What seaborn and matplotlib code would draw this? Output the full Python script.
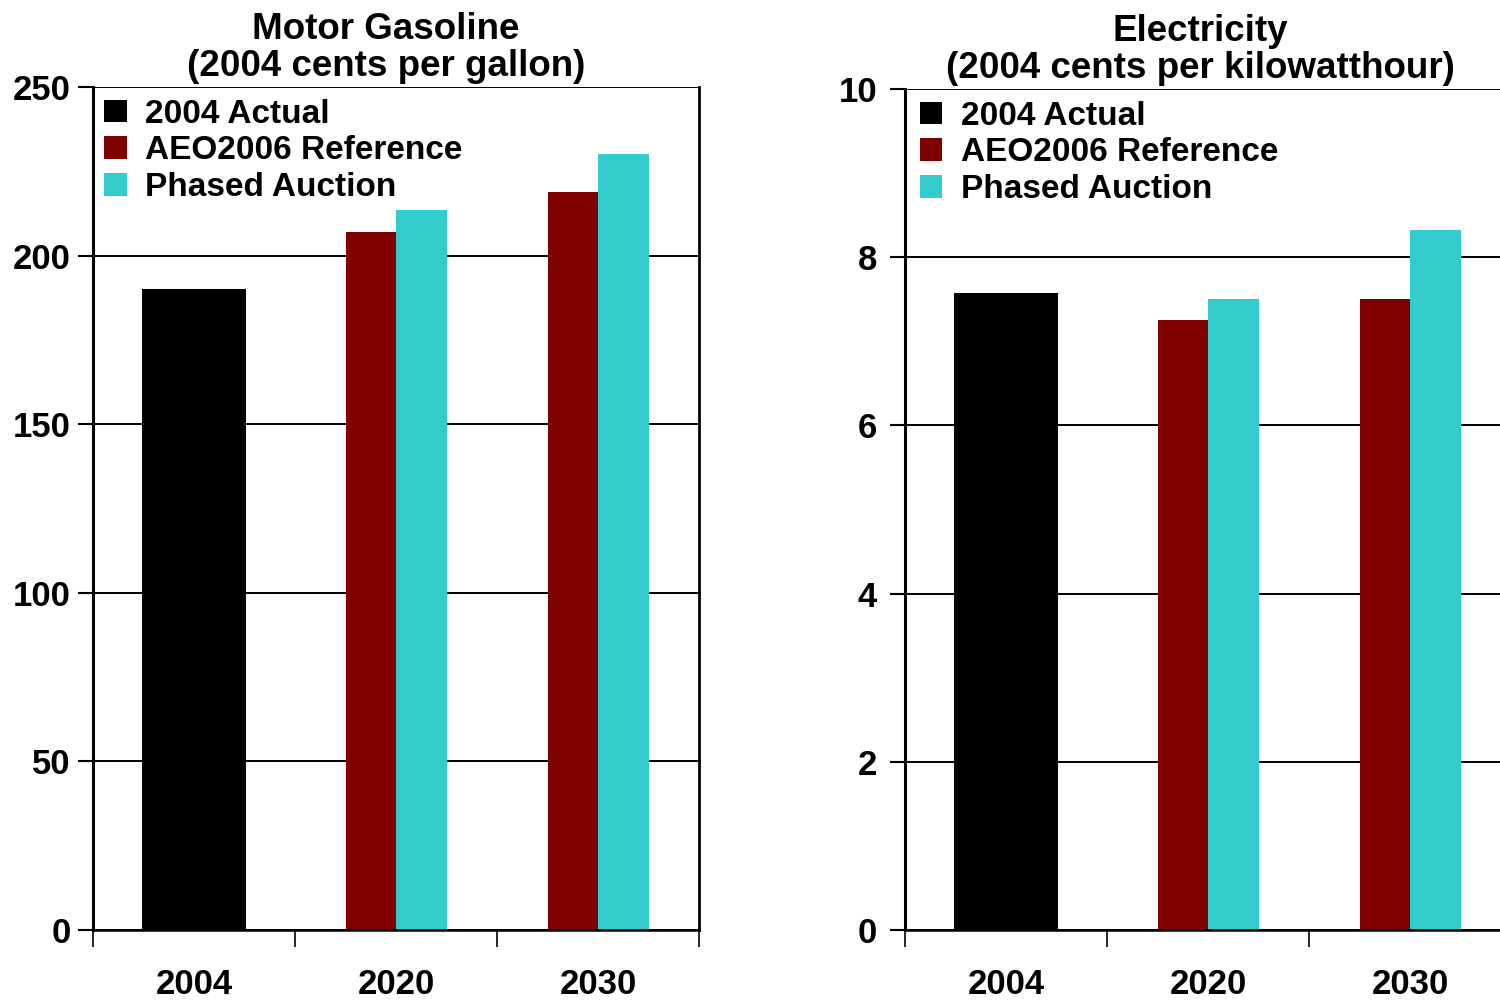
import numpy as np
import pandas as pd
import matplotlib
matplotlib.use("Agg")
import matplotlib.pyplot as plt
from matplotlib.patches import Patch
from matplotlib.ticker import FixedLocator, NullFormatter, FixedFormatter
import seaborn as sns

# Category labels and series values
years = ["2004", "2020", "2030"]
series_names = ["2004 Actual", "AEO2006 Reference", "Phased Auction"]
series_colors = ["#000000", "#800000", "#33CCCC"]

# Motor gasoline, 2004 cents per gallon
gas_actual = [190.0]            # 2004
gas_reference = [207.0, 219.0]  # 2020, 2030
gas_auction = [213.5, 230.0]    # 2020, 2030
gas_ticks = [0, 50, 100, 150, 200, 250]

# Electricity, 2004 cents per kilowatthour
elec_actual = [7.57]
elec_reference = [7.25, 7.50]
elec_auction = [7.50, 8.32]
elec_ticks = [0, 2, 4, 6, 8, 10]

sns.set_style("white")
plt.rcParams["font.family"] = ["Liberation Sans", "DejaVu Sans"]
plt.rcParams["font.weight"] = "bold"
for key in ("text.color", "axes.labelcolor", "xtick.color", "ytick.color"):
    plt.rcParams[key] = "black"

W, H = 1500, 1001
fig = plt.figure(figsize=(W / 100, H / 100), dpi=100)


def draw_panel(ax, actual, reference, auction, ticks, title, title_x,
               right_border, ypad, legend_dx):
    # 2004 bar sits alone in the middle of its slot; projections are paired
    df_act = pd.DataFrame({"pos": [0.0], "value": actual})
    df_ref = pd.DataFrame({"pos": [i - 0.125 for i in (1, 2)], "value": reference})
    df_auc = pd.DataFrame({"pos": [i + 0.125 for i in (1, 2)], "value": auction})
    sns.barplot(data=df_act, x="pos", y="value", native_scale=True, width=0.51,
                color=series_colors[0], saturation=1, errorbar=None,
                linewidth=0, ax=ax)
    sns.barplot(data=df_ref, x="pos", y="value", native_scale=True, width=0.25,
                color=series_colors[1], saturation=1, errorbar=None,
                linewidth=0, ax=ax)
    sns.barplot(data=df_auc, x="pos", y="value", native_scale=True, width=0.25,
                color=series_colors[2], saturation=1, errorbar=None,
                linewidth=0, ax=ax)

    ax.set_xlim(-0.5, 2.5)
    ax.set_ylim(ticks[0], ticks[-1])
    ax.set_xlabel("")
    ax.set_ylabel("")

    # y axis: outward ticks, black horizontal grid
    ax.set_yticks(ticks)
    ax.set_yticklabels([str(t) for t in ticks], fontsize=25, fontweight="bold")
    ax.tick_params(axis="y", which="major", direction="out", length=11,
                   width=1.5, color="black", pad=ypad, left=True)
    ax.yaxis.grid(True, color="black", linewidth=1.4)
    ax.set_axisbelow(True)

    # x axis: ticks mark slot boundaries, labels sit under slot centres
    ax.xaxis.set_major_locator(FixedLocator([-0.5, 0.5, 1.5, 2.5]))
    ax.xaxis.set_major_formatter(NullFormatter())
    ax.xaxis.set_minor_locator(FixedLocator([0, 1, 2]))
    ax.xaxis.set_minor_formatter(FixedFormatter(years))
    ax.tick_params(axis="x", which="major", direction="out", length=12,
                   width=1.2, color="black", bottom=True)
    ax.tick_params(axis="x", which="minor", length=0, pad=27, labelsize=25)
    for lbl in ax.xaxis.get_minorticklabels():
        lbl.set_fontweight("bold")

    for side in ("left", "bottom"):
        ax.spines[side].set_visible(True)
        ax.spines[side].set_color("black")
    ax.spines["left"].set_linewidth(2.2)
    ax.spines["bottom"].set_linewidth(1.8)
    ax.spines["top"].set_visible(False)
    ax.spines["right"].set_visible(right_border)
    if right_border:
        ax.spines["right"].set_color("black")
        ax.spines["right"].set_linewidth(2.0)

    ax.set_title(title, fontsize=26.5, fontweight="bold", x=title_x, pad=8,
                 linespacing=1.08)

    handles = [Patch(facecolor=c, edgecolor="none") for c in series_colors]
    ax.legend(handles, series_names, loc="upper left",
              bbox_to_anchor=(legend_dx, 1.0), frameon=False,
              handlelength=0.68, handleheight=0.68, handletextpad=0.55,
              labelspacing=0.17, borderaxespad=0.15, borderpad=0.2,
              prop={"weight": "bold", "size": 24})


ax1 = fig.add_axes([93 / W, (H - 930) / H, 606 / W, 843 / H])
draw_panel(ax1, gas_actual, gas_reference, gas_auction, gas_ticks,
           "Motor Gasoline\n(2004 cents per gallon)", 0.483, True, 5, -0.001)

ax2 = fig.add_axes([905 / W, (H - 930) / H, 606 / W, 841 / H])
draw_panel(ax2, elec_actual, elec_reference, elec_auction, elec_ticks,
           "Electricity\n(2004 cents per kilowatthour)", 0.488, False, 9, 0.005)

fig.savefig("out.png", dpi=100)
